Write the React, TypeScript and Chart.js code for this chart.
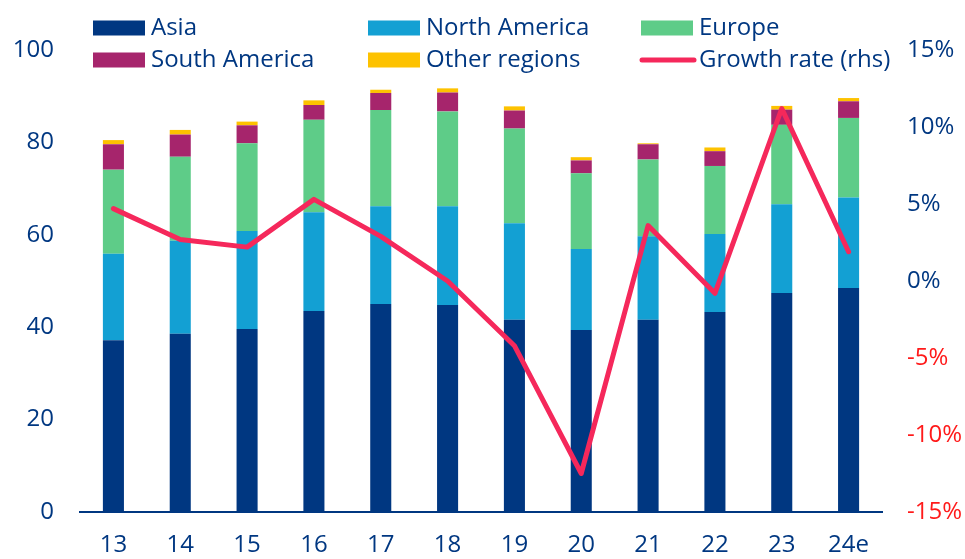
import React, { useEffect, useRef } from "react";
import { Chart, registerables } from "chart.js";

Chart.register(...registerables);

const categories = ["13", "14", "15", "16", "17", "18", "19", "20", "21", "22", "23", "24e"];
const asia = [37.2, 38.6, 39.6, 43.5, 45.0, 44.8, 41.6, 39.4, 41.6, 43.3, 47.4, 48.5];
const northAmerica = [18.7, 20.1, 21.2, 21.4, 21.2, 21.4, 20.9, 17.5, 18.1, 16.9, 19.2, 19.6];
const europe = [18.2, 18.2, 19.0, 20.0, 20.8, 20.5, 20.5, 16.4, 16.6, 14.7, 17.2, 17.2];
const southAmerica = [5.5, 4.8, 3.9, 3.2, 3.7, 4.1, 3.9, 2.8, 3.3, 3.2, 3.3, 3.6];
const otherRegions = [0.9, 1.0, 0.8, 1.0, 0.7, 0.9, 0.9, 0.7, 0.2, 0.8, 0.8, 0.7];
const growthRate = [4.7, 2.7, 2.2, 5.3, 2.9, 0.0, -4.2, -12.5, 3.6, -0.8, 11.2, 1.9];

const leftTicks = { min: 0, max: 100, step: 20 };
const rightTicks = { min: -15, max: 15, step: 5 };

const BLUE = "#003781";
const RED = "#FF1A1A";
const FONT = "'Open Sans', sans-serif";

const legendPlugin = {
  id: "gridLegend",
  afterDraw(chart: any) {
    const ctx = chart.ctx;
    const cols = [93, 368, 641];
    const rows = [28, 60];
    // legend order: Asia, NA, Europe / SA, Other, Growth
    const order = [0, 1, 2, 3, 4, 5];
    ctx.save();
    ctx.font = `24px ${FONT}`;
    ctx.textBaseline = "middle";
    ctx.textAlign = "left";
    order.forEach((di, i) => {
      const ds = chart.data.datasets[di];
      const x = cols[i % 3];
      const y = rows[Math.floor(i / 3)];
      if (ds.type === "line") {
        ctx.strokeStyle = ds.borderColor;
        ctx.lineWidth = 5;
        ctx.lineCap = "round";
        ctx.beginPath();
        ctx.moveTo(x + 1, y);
        ctx.lineTo(x + 53, y);
        ctx.stroke();
      } else {
        ctx.fillStyle = ds.backgroundColor;
        ctx.fillRect(x, y - 7.5, 52, 15);
      }
      ctx.fillStyle = BLUE;
      ctx.fillText(ds.label, x + 58, y);
    });
    ctx.restore();
  },
};

export default function App() {
  const ref = useRef<HTMLCanvasElement | null>(null);

  useEffect(() => {
    if (!ref.current) return;
    const chart = new Chart(ref.current, {
      type: "bar",
      data: {
        labels: categories,
        datasets: [
          { type: "bar", label: "Asia", data: asia, backgroundColor: "#003781", stack: "s", yAxisID: "y", order: 1 },
          { type: "bar", label: "North America", data: northAmerica, backgroundColor: "#13A0D3", stack: "s", yAxisID: "y", order: 1 },
          { type: "bar", label: "Europe", data: europe, backgroundColor: "#5ECC88", stack: "s", yAxisID: "y", order: 1 },
          { type: "bar", label: "South America", data: southAmerica, backgroundColor: "#A6256C", stack: "s", yAxisID: "y", order: 1 },
          { type: "bar", label: "Other regions", data: otherRegions, backgroundColor: "#FDC200", stack: "s", yAxisID: "y", order: 1 },
          {
            type: "line",
            label: "Growth rate (rhs)",
            data: growthRate,
            borderColor: "#F5285B",
            backgroundColor: "#F5285B",
            borderWidth: 5,
            pointRadius: 0,
            tension: 0,
            borderJoinStyle: "round",
            borderCapStyle: "round",
            yAxisID: "y2",
            order: 0,
          } as any,
        ],
      },
      options: {
        responsive: false,
        animation: false,
        layout: { padding: { top: 50, left: 0, right: 0, bottom: 0 } },
        datasets: { bar: { categoryPercentage: 1, barPercentage: 0.315 } } as any,
        plugins: { legend: { display: false }, tooltip: { enabled: false } },
        scales: {
          x: {
            stacked: true,
            grid: { display: false, drawTicks: false },
            border: { display: true, color: BLUE, width: 2 },
            ticks: { color: BLUE, font: { family: FONT, size: 24 }, padding: 19, maxRotation: 0 },
            afterFit: (s: any) => { s.height = 47; },
          },
          y: {
            stacked: true,
            position: "left",
            min: leftTicks.min,
            max: leftTicks.max,
            grid: { display: false, drawTicks: false },
            border: { display: false },
            ticks: { stepSize: leftTicks.step, color: BLUE, font: { family: FONT, size: 24 }, padding: 26 },
            afterFit: (s: any) => { s.width = 80; },
          },
          y2: {
            position: "right",
            min: rightTicks.min,
            max: rightTicks.max,
            grid: { display: false, drawTicks: false },
            border: { display: false },
            ticks: {
              stepSize: rightTicks.step,
              font: { family: FONT, size: 24 },
              padding: 25,
              color: (c: any) => (c.tick && c.tick.value < 0 ? RED : BLUE),
              callback: (v: any) => `${v}%`,
            },
            afterFit: (s: any) => { s.width = 83; },
          },
        },
      },
      plugins: [legendPlugin],
    });
    return () => chart.destroy();
  }, []);

  return (
    <div style={{ position: "absolute", left: 0, top: 0, width: 965, height: 559, background: "#fff" }}>
      <canvas ref={ref} width={965} height={559} />
    </div>
  );
}
